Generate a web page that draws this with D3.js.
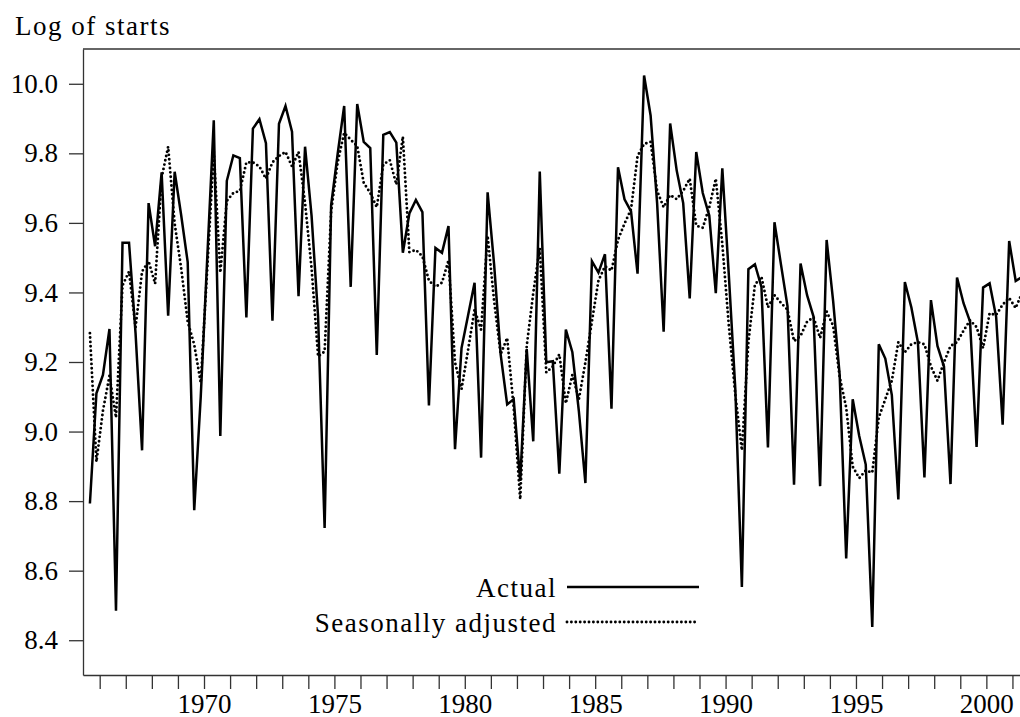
<!DOCTYPE html>
<html>
  <head>
    <meta charset="utf-8">
    <script src="https://d3js.org/d3.v7.min.js"></script>
    <style>
      body { margin: 0; background: white; }
      svg text { font-family: "Liberation Serif", serif; fill: black; }
      .axis path, .axis line { stroke: #333; stroke-width: 1.3; }
    </style>
  </head>
  <body>
    <script>
        // quarterly series, first point is 1965 Q3
        var startYear = 1965, startQuarter = 3
        var actual = [
            8.793, 9.11, 9.163, 9.295, 8.485, 9.543, 9.543, 9.283, 8.946, 9.657,
            9.533, 9.745, 9.333, 9.747, 9.622, 9.487, 8.774, 9.10, 9.50, 9.895,
            8.987, 9.721, 9.794, 9.786, 9.328, 9.871, 9.898, 9.829, 9.319, 9.885,
            9.936, 9.862, 9.389, 9.819, 9.62, 9.33, 8.723, 9.651, 9.798, 9.936,
            9.416, 9.942, 9.833, 9.815, 9.22, 9.853, 9.861, 9.831, 9.514, 9.627,
            9.666, 9.631, 9.075, 9.528, 9.514, 9.591, 8.949, 9.24, 9.334, 9.428,
            8.925, 9.688, 9.48, 9.222, 9.078, 9.093, 8.858, 9.237, 8.972, 9.748,
            9.199, 9.202, 8.879, 9.293, 9.228, 9.058, 8.852, 9.49, 9.457, 9.51,
            9.066, 9.76, 9.668, 9.633, 9.454, 10.024, 9.909, 9.657, 9.287, 9.886,
            9.751, 9.657, 9.383, 9.804, 9.686, 9.621, 9.398, 9.757, 9.45, 9.12,
            8.553, 9.467, 9.481, 9.416, 8.954, 9.602, 9.48, 9.36, 8.847, 9.483,
            9.392, 9.33, 8.843, 9.551, 9.375, 9.163, 8.635, 9.093, 8.987, 8.905,
            8.438, 9.251, 9.21, 9.105, 8.805, 9.43, 9.357, 9.257, 8.868, 9.378,
            9.246, 9.187, 8.849, 9.443, 9.369, 9.316, 8.956, 9.414, 9.426, 9.33,
            9.02, 9.548, 9.433, 9.445
        ]
        var adjusted = [
            9.283, 8.913, 9.06, 9.16, 9.04, 9.42, 9.46, 9.30, 9.46, 9.49,
            9.425, 9.73, 9.819, 9.598, 9.469, 9.316, 9.25, 9.14, 9.469, 9.804,
            9.457, 9.663, 9.686, 9.692, 9.774, 9.774, 9.762, 9.727, 9.774, 9.792,
            9.804, 9.762, 9.804, 9.657, 9.469, 9.216, 9.23, 9.633, 9.774, 9.859,
            9.839, 9.821, 9.715, 9.686, 9.645, 9.768, 9.78, 9.71, 9.848, 9.516,
            9.522, 9.504, 9.434, 9.416, 9.428, 9.492, 9.199, 9.122, 9.234, 9.351,
            9.293, 9.563, 9.375, 9.222, 9.269, 9.069, 8.805, 9.246, 9.398, 9.528,
            9.17, 9.187, 9.222, 9.081, 9.163, 9.093, 9.199, 9.316, 9.434, 9.475,
            9.463, 9.551, 9.598, 9.639, 9.792, 9.827, 9.833, 9.692, 9.645, 9.68,
            9.668, 9.692, 9.727, 9.592, 9.586, 9.645, 9.727, 9.539, 9.304, 9.105,
            8.946, 9.257, 9.422, 9.445, 9.357, 9.392, 9.37, 9.35, 9.26, 9.275,
            9.316, 9.328, 9.269, 9.345, 9.304, 9.157, 9.069, 8.899, 8.866, 8.888,
            8.882, 9.04, 9.093, 9.146, 9.257, 9.228, 9.251, 9.257, 9.251, 9.187,
            9.146, 9.199, 9.246, 9.257, 9.29, 9.32, 9.30, 9.24, 9.34, 9.335,
            9.365, 9.384, 9.355, 9.40
        ]
        var yTicks = [8.4, 8.6, 8.8, 9.0, 9.2, 9.4, 9.6, 9.8, 10.0]
        var yearTicks = d3.range(1966, 2002)
        var yearLabels = [1970, 1975, 1980, 1985, 1990, 1995, 2000]
        var seriesNames = ["Actual", "Seasonally adjusted"]

        var width = 1020, height = 717
        var plotLeft = 83, plotRight = 1020, plotTop = 49, plotBottom = 675

        // time of each point = middle of its quarter
        function qtime(i){
            return startYear + (startQuarter - 1 + i + 0.5) / 4
        }

        var x = d3.scaleLinear().domain([1965.36, 2001.29]).range([plotLeft, plotRight])
        var y = d3.scaleLinear().domain([8.3, 10.1]).range([plotBottom, plotTop])

        var svg = d3.select("body").append("svg")
            .attr("width", width)
            .attr("height", height)

        svg.append("clipPath").attr("id", "plot")
            .append("rect")
            .attr("x", plotLeft).attr("y", plotTop)
            .attr("width", plotRight - plotLeft).attr("height", plotBottom - plotTop)

        // axes
        svg.append("g")
            .attr("class", "axis")
            .attr("transform", "translate(" + plotLeft + ",0)")
            .call(d3.axisLeft(y).tickValues(yTicks).tickSize(14).tickSizeOuter(0)
                .tickPadding(11).tickFormat(d3.format(".1f")))
            .selectAll("text").attr("font-size", 27).attr("font-family", "Liberation Serif")

        svg.append("g")
            .attr("class", "axis")
            .attr("transform", "translate(0," + plotBottom + ")")
            .call(d3.axisBottom(x).tickValues(yearTicks).tickSize(14).tickSizeOuter(0)
                .tickPadding(5)
                .tickFormat(function(d){ return yearLabels.indexOf(d) >= 0 ? d : "" }))
            .selectAll("text").attr("font-size", 27).attr("font-family", "Liberation Serif")

        svg.selectAll(".axis .domain").attr("stroke", "#333")

        // top frame line
        svg.append("line")
            .attr("x1", plotLeft).attr("x2", plotRight)
            .attr("y1", plotTop).attr("y2", plotTop)
            .attr("stroke", "#333").attr("stroke-width", 1.3)

        svg.append("text")
            .attr("x", 15).attr("y", 35)
            .attr("font-size", 27)
            .attr("letter-spacing", 1.5)
            .text("Log of starts")

        var line = d3.line()
            .x(function(d, i){ return x(qtime(i)) })
            .y(function(d){ return y(d) })

        var g = svg.append("g").attr("clip-path", "url(#plot)")

        g.append("path")
            .datum(adjusted)
            .attr("d", line)
            .attr("fill", "none")
            .attr("stroke", "black")
            .attr("stroke-width", 2.9)
            .attr("stroke-linecap", "round")
            .attr("stroke-dasharray", "0,4.4")

        g.append("path")
            .datum(actual)
            .attr("d", line)
            .attr("fill", "none")
            .attr("stroke", "black")
            .attr("stroke-width", 2.5)
            .attr("stroke-linejoin", "miter")

        // legend
        var legend = svg.append("g")
        var rows = [{name: seriesNames[0], y: 587, dash: null},
                    {name: seriesNames[1], y: 622, dash: "0,4.4"}]
        rows.forEach(function(r){
            legend.append("text")
                .attr("x", 557).attr("y", r.y + 10)
                .attr("text-anchor", "end")
                .attr("font-size", 27)
                .attr("letter-spacing", 1.5)
                .text(r.name)
            legend.append("line")
                .attr("x1", 567).attr("x2", 699)
                .attr("y1", r.y).attr("y2", r.y)
                .attr("stroke", "black")
                .attr("stroke-width", r.dash ? 2.9 : 2.5)
                .attr("stroke-linecap", r.dash ? "round" : "butt")
                .attr("stroke-dasharray", r.dash)
        })
    </script>
  </body>
</html>
